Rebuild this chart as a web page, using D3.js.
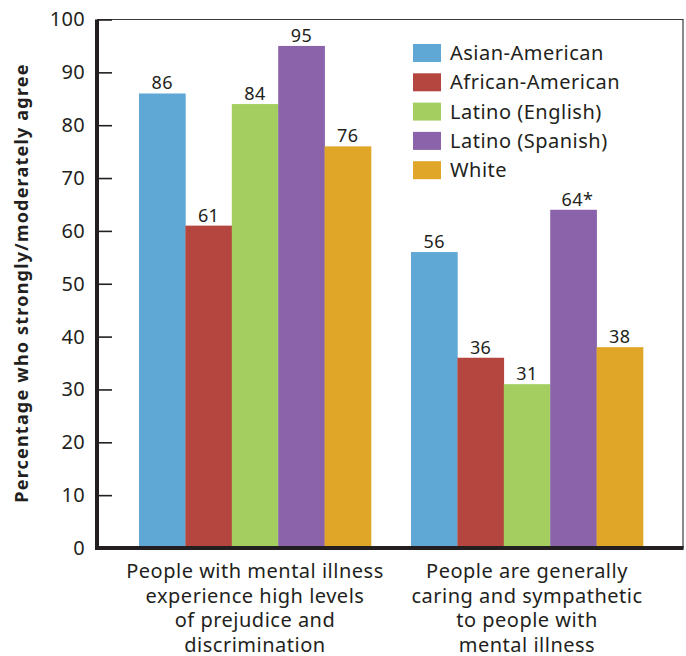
<!DOCTYPE html>
<html>
<head>
<meta charset="utf-8">
<script src="https://cdn.jsdelivr.net/npm/d3@7"></script>
<style>
  html, body { margin: 0; padding: 0; background: #fff; }
  svg { display: block; }
  text { font-family: "Noto Sans", "Open Sans", sans-serif; fill: #231f20; }
</style>
</head>
<body>
<svg id="chart" width="686" height="656"></svg>
<script>
// Survey statements (x-axis groups), one line per array entry
const categories = [
  ["People with mental illness", "experience high levels", "of prejudice and", "discrimination"],
  ["People are generally", "caring and sympathetic", "to people with", "mental illness"]
];
const groups = ["Asian-American", "African-American", "Latino (English)", "Latino (Spanish)", "White"];
const colors = ["#5fa8d6", "#b5463f", "#a4cf60", "#8a63aa", "#e0a628"];
// Percentages per group, in statement order
const asianAmerican   = [86, 56];
const africanAmerican = [61, 36];
const latinoEnglish   = [84, 31];
const latinoSpanish   = [95, 64];
const white           = [76, 38];
const valueLabels = [
  ["86", "56"], ["61", "36"], ["84", "31"], ["95", "64*"], ["76", "38"]
];
const yTicks = [0, 10, 20, 30, 40, 50, 60, 70, 80, 90, 100];

const series = [asianAmerican, africanAmerican, latinoEnglish, latinoSpanish, white];

const svg = d3.select("#chart");
const plot = { left: 97, right: 683, top: 19.5, bottom: 548 };

const x0 = d3.scaleBand()
  .domain(d3.range(categories.length))
  .range([plot.left + 2, plot.right])
  .paddingInner(0.147)
  .paddingOuter(0.147);
const x1 = d3.scaleBand()
  .domain(d3.range(groups.length))
  .range([0, x0.bandwidth()]);
const y = d3.scaleLinear().domain([0, 100]).range([plot.bottom, plot.top]);

// Frame: thin top and right edges
svg.append("line")
  .attr("x1", plot.left).attr("x2", plot.right + 0.5)
  .attr("y1", plot.top).attr("y2", plot.top)
  .attr("stroke", "#3a3a3a").attr("stroke-width", 1.2);
svg.append("line")
  .attr("x1", plot.right).attr("x2", plot.right)
  .attr("y1", plot.top).attr("y2", plot.bottom)
  .attr("stroke", "#3a3a3a").attr("stroke-width", 1.2);

// Bars
const data = [];
categories.forEach((c, ci) => {
  series.forEach((s, si) => data.push({ ci, si, v: s[ci], label: valueLabels[si][ci] }));
});

svg.append("g").selectAll("rect")
  .data(data)
  .join("rect")
  .attr("x", d => x0(d.ci) + x1(d.si))
  .attr("y", d => y(d.v))
  .attr("width", x1.bandwidth() + 0.3)
  .attr("height", d => y(0) - y(d.v))
  .attr("fill", d => colors[d.si]);

svg.append("g").selectAll("text")
  .data(data)
  .join("text")
  .attr("x", d => x0(d.ci) + x1(d.si) + x1.bandwidth() / 2 + (d.label.endsWith("*") ? 4 : 0))
  .attr("y", d => y(d.v) - 4)
  .attr("text-anchor", "middle")
  .attr("font-size", 18)
  .attr("letter-spacing", 0.4)
  .text(d => d.label);

// Y axis
const yAxis = d3.axisLeft(y).tickValues(yTicks).tickSize(-15).tickPadding(12).tickSizeOuter(0);
const yg = svg.append("g")
  .attr("transform", `translate(${plot.left},0)`)
  .call(yAxis);
yg.select(".domain").remove();
yg.selectAll(".tick line").attr("stroke", "#231f20").attr("stroke-width", 1.6);
yg.selectAll(".tick text").attr("font-size", 20).attr("fill", "#231f20")
  .attr("letter-spacing", 0.3)
  .attr("font-family", "\"Noto Sans\", sans-serif");
svg.append("line")
  .attr("x1", plot.left).attr("x2", plot.left)
  .attr("y1", plot.top).attr("y2", plot.bottom + 2)
  .attr("stroke", "#231f20").attr("stroke-width", 4);

// X axis baseline
svg.append("line")
  .attr("x1", plot.left - 2).attr("x2", plot.right + 0.6)
  .attr("y1", plot.bottom).attr("y2", plot.bottom)
  .attr("stroke", "#231f20").attr("stroke-width", 4);

// Category labels
categories.forEach((lines, ci) => {
  const t = svg.append("text")
    .attr("x", x0(ci) + x0.bandwidth() / 2)
    .attr("y", 578)
    .attr("text-anchor", "middle")
    .attr("font-size", 20)
    .attr("letter-spacing", 0.5);
  lines.forEach((ln, i) => {
    t.append("tspan")
      .attr("x", x0(ci) + x0.bandwidth() / 2)
      .attr("dy", i === 0 ? 0 : 24.5)
      .text(ln);
  });
});

// Y axis title
svg.append("text")
  .attr("transform", "translate(28,283) rotate(-90)")
  .attr("text-anchor", "middle")
  .attr("font-size", 18)
  .attr("font-weight", "bold")
  .attr("letter-spacing", 1.2)
  .text("Percentage who strongly/moderately agree");

// Legend
const legend = svg.append("g").attr("transform", "translate(413,44)");
groups.forEach((g, i) => {
  const row = legend.append("g").attr("transform", `translate(0,${i * 29.3})`);
  row.append("rect").attr("width", 28).attr("height", 18).attr("fill", colors[i]);
  row.append("text").attr("x", 37).attr("y", 16).attr("font-size", 20)
    .attr("letter-spacing", 0.5).text(g);
});
</script>
</body>
</html>
